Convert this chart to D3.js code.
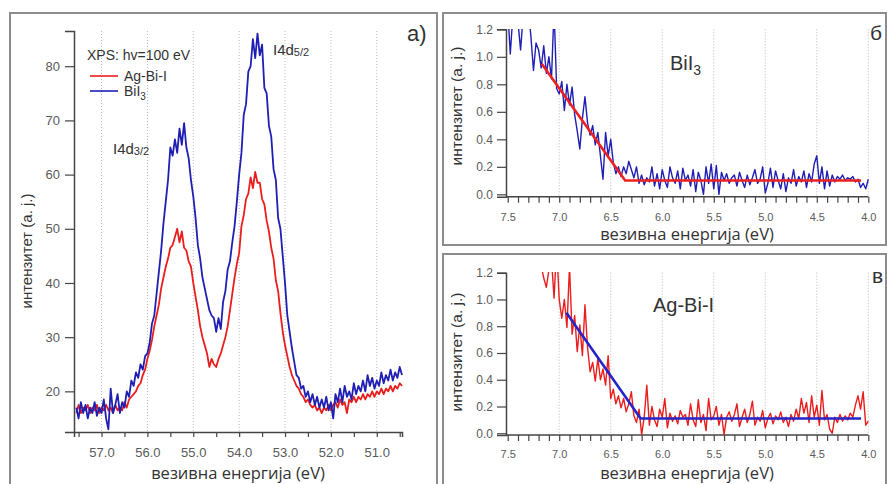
<!DOCTYPE html>
<html>
<head>
<meta charset="utf-8">
<script src="https://cdn.jsdelivr.net/npm/d3@7"></script>
<style>
  body { margin: 0; background: #fff; }
  text { font-family: "Liberation Sans", Arial, sans-serif; }
</style>
</head>
<body>
<div id="chart"></div>
<script>
// panel a) - I 4d core level spectra, read every 0.05 eV from 57.55 down to 50.45 eV
const coreStart = 57.55, coreStep = 0.05;
const coreAgBiI = [
  16, 17.5, 16, 17, 16.5, 17.5, 16, 17, 16.5, 17.5,
  16, 17, 16.5, 17.5, 16.5, 17, 16, 17.5, 16.5, 17,
  16.5, 18, 17, 18.5, 19, 19.5, 20, 21, 21.5, 23,
  24, 26, 27.5, 29.5, 32, 34, 36, 39, 41, 43,
  44.5, 46.5, 47, 48.5, 50, 47.5, 49.5, 46.5, 46, 44,
  43, 40, 37.5, 35, 32, 30, 28.5, 27, 24.5, 26,
  25, 24.5, 26, 27, 28.5, 30, 32, 35, 38, 41,
  43.5, 45.5, 50.5, 52.5, 55.5, 56.5, 59.5, 57.5, 60.5, 58.5,
  58.5, 55.5, 54.5, 51.5, 49.5, 46.5, 44.5, 40.5, 38.5, 34.5,
  31, 28.5, 26.5, 24.5, 23, 22, 21, 20.5, 19.5, 19,
  18, 18.5, 17.5, 17, 17.5, 16.5, 17, 16, 17, 16.5,
  17.5, 16.5, 17.5, 18, 17, 18.5, 17.5, 18, 16, 18.5,
  18, 19, 18, 19, 18.5, 19.5, 18.5, 19.5, 19, 20,
  19, 20, 19.5, 20.5, 19.5, 20.5, 20, 21, 20, 21,
  20.5, 21.5, 21
];
const coreBiI3 = [
  17, 15, 18, 16, 17.5, 15, 17, 16, 18, 15.5,
  17, 16, 18.5, 15, 13, 20.5, 16, 17.5, 19.5, 16,
  18, 17, 20, 19, 22, 21, 23.5, 22.5, 25, 24,
  26.5, 27, 29, 32.5, 34, 38, 42, 46, 51, 55,
  59, 65, 63.5, 66.5, 64, 68.5, 65.5, 69.5, 65, 63,
  59, 56, 52, 47, 44.5, 41, 39, 37, 35, 34,
  33.5, 31, 33.5, 31.5, 36.5, 38.5, 42.5, 44, 47.5, 50.5,
  55, 60, 64, 71, 73, 79, 80, 85, 81.5, 86,
  82, 84, 76, 75, 69, 67, 61, 59, 52, 50,
  45, 40, 34, 31, 28, 25.5, 23, 22.5, 20.5, 21,
  19, 20, 18, 19.5, 17.5, 19, 17, 18.5, 17, 19,
  16.5, 18, 15, 19.5, 18, 20.5, 18, 21, 19, 20,
  18.5, 21.5, 19.5, 21, 20, 22, 20, 23, 21, 22.5,
  20.5, 22, 21, 23.5, 21.5, 23, 22, 24, 22, 23.5,
  22.5, 24.5, 23
];
const coreXTicks = [57, 56, 55, 54, 53, 52, 51];
const coreYTicks = [20, 30, 40, 50, 60, 70, 80];

// panels б) and в) - valence band edge, read every 0.025 eV from 7.5 down to 4.0 eV
const vbStart = 7.5, vbStep = 0.025;
const vbBiI3 = [
  1.35, 1.02, 1.30, 1.40, 1.25, 1.05, 1.30, 1.22, 1.35, 1.15,
  0.90, 1.10, 1.05, 0.92, 1.08, 0.88, 1.00, 0.84, 1.35, 0.77,
  0.73, 0.82, 0.61, 0.80, 0.65, 0.78, 0.58, 0.46, 0.33, 0.55,
  0.71, 0.52, 0.43, 0.50, 0.36, 0.45, 0.28, 0.11, 0.45, 0.28,
  0.40, 0.23, 0.15, 0.20, 0.13, 0.20, 0.15, 0.24, 0.18, 0.12,
  0.20, 0.08, 0.14, 0.07, 0.12, 0.09, 0.20, 0.06, 0.15, 0.04,
  0.18, 0.10, 0.05, 0.20, 0.12, 0.08, 0.17, 0.04, 0.19, 0.10,
  0.14, 0.06, 0.18, 0.02, 0.16, 0.10, 0.00, 0.20, 0.08, 0.22,
  0.04, 0.21, 0.00, 0.16, 0.10, 0.15, 0.08, 0.12, 0.14, 0.06,
  0.16, 0.10, 0.05, 0.14, 0.07, 0.12, 0.18, 0.08, 0.11, 0.20,
  0.01, 0.08, 0.19, 0.05, 0.17, 0.10, 0.04, 0.15, 0.02, 0.12,
  0.08, 0.18, 0.06, 0.13, 0.09, 0.17, 0.05, 0.15, 0.09, 0.22,
  0.28, 0.08, 0.20, 0.04, 0.17, 0.06, 0.14, 0.09, 0.13, 0.11,
  0.14, 0.10, 0.12, 0.11, 0.13, 0.09, 0.11, 0.05, 0.08, 0.04,
  0.11
];
const vbAgBiI = [
  1.40, 1.45, 1.50, 1.42, 1.48, 1.38, 1.45, 1.40, 1.35, 1.42,
  1.30, 1.36, 1.28, 1.25, 1.16, 1.09, 1.22, 1.30, 1.01, 1.40,
  1.00, 0.86, 1.00, 0.79, 1.25, 0.74, 0.88, 0.61, 0.81, 0.58,
  0.96, 0.64, 0.46, 0.53, 0.39, 0.56, 0.40, 0.48, 0.36, 0.58,
  0.26, 0.33, 0.22, 0.28, 0.19, 0.26, 0.16, 0.22, 0.31, 0.13,
  0.08, 0.18, -0.01, 0.12, 0.36, 0.06, 0.20, 0.10, 0.05, 0.18,
  0.12, 0.26, 0.04, 0.15, 0.09, 0.13, 0.07, 0.17, 0.12, 0.14,
  0.06, 0.22, 0.10, 0.05, 0.25, 0.08, 0.14, 0.02, 0.26, 0.10,
  0.13, 0.20, 0.06, 0.14, -0.01, 0.12, 0.16, 0.09, 0.14, 0.22,
  0.05, 0.12, 0.18, 0.08, 0.14, 0.24, 0.06, 0.12, 0.09, 0.17,
  0.04, 0.11, 0.15, 0.07, 0.13, 0.10, 0.16, 0.08, 0.12, 0.05,
  0.14, 0.09, 0.18, 0.11, 0.26, 0.15, 0.23, 0.08, 0.28, 0.12,
  0.21, 0.06, 0.32, 0.10, 0.14, 0.03, 0.00, 0.12, 0.08, 0.14,
  0.09, 0.13, 0.10, 0.15, 0.12, 0.21, 0.28, 0.18, 0.31, 0.06,
  0.09
];
// linear extrapolation lines [energy, intensity]
const fitBiI3 = [[7.17, 0.95], [6.36, 0.10], [4.07, 0.10]];
const fitAgBiI = [[6.93, 0.90], [6.21, 0.11], [4.07, 0.11]];
const vbGridTicks = [7.0, 6.5, 6.0, 5.5, 5.0, 4.5, 4.0];
const vbYTicks = [0, 0.2, 0.4, 0.6, 0.8, 1.0, 1.2];

const red = "#ea1d1d", blue = "#1f1fb4";
const xTitle = "везивна енергија (eV)", yTitle = "интензитет (a. j.)";

const svg = d3.select("#chart")
  .append("svg")
  .attr("width", 887)
  .attr("height", 484);

svg.append("defs").append("clipPath").attr("id", "clipB")
  .append("rect").attr("x", 506).attr("y", 29).attr("width", 364).attr("height", 170);
svg.select("defs").append("clipPath").attr("id", "clipC")
  .append("rect").attr("x", 506).attr("y", 272).attr("width", 364).attr("height", 166);

// frames
const frame = (x, y, w, h) => svg.append("rect")
  .attr("x", x).attr("y", y).attr("width", w).attr("height", h)
  .attr("fill", "none").attr("stroke", "#8c8c8c").attr("stroke-width", 2);
frame(10, 13, 427, 490);
frame(443, 13, 443, 232);
frame(443, 254, 443, 250);

function styleAxis(g, size) {
  g.select(".domain").attr("stroke", "#444").attr("stroke-width", 1.5);
  g.selectAll(".tick line").attr("stroke", "#444").attr("stroke-width", 1.2);
  g.selectAll(".tick text").attr("fill", "#5a5a5a").style("font-size", size + "px")
    .style("font-family", "'Liberation Sans', Arial, sans-serif");
}

// ---------- panel a ----------
const xA = d3.scaleLinear().domain([57.6, 50.45]).range([74, 402]);
const yA = d3.scaleLinear().domain([12.5, 86.5]).range([432, 31]);

svg.append("g").selectAll("line").data(coreXTicks).enter().append("line")
  .attr("x1", d => xA(d)).attr("x2", d => xA(d))
  .attr("y1", 31).attr("y2", 432)
  .attr("stroke", "#b8b8b8").attr("stroke-dasharray", "1,2");

const axA = svg.append("g").attr("transform", "translate(0,432)")
  .call(d3.axisBottom(xA).tickValues(d3.range(57.5, 50.4, -0.5)).tickSize(5).tickPadding(11)
    .tickFormat(d => coreXTicks.includes(d) ? d.toFixed(1) : ""));
styleAxis(axA, 13);
const ayA = svg.append("g").attr("transform", "translate(74,0)")
  .call(d3.axisLeft(yA).tickValues(coreYTicks).tickSize(9).tickPadding(5));
styleAxis(ayA, 13);

const lineA = d3.line()
  .x((d, i) => xA(coreStart - coreStep * i))
  .y(d => yA(d));

svg.append("path").datum(coreAgBiI).attr("d", lineA)
  .attr("fill", "none").attr("stroke", red).attr("stroke-width", 1.8).attr("stroke-linejoin", "round");
svg.append("path").datum(coreBiI3).attr("d", lineA)
  .attr("fill", "none").attr("stroke", blue).attr("stroke-width", 1.8).attr("stroke-linejoin", "round");

svg.append("text").attr("x", 238).attr("y", 479).attr("text-anchor", "middle")
  .style("font-family", "'Open Sans', sans-serif").style("font-size", "16.5px").attr("fill", "#333")
  .text(xTitle);
svg.append("text").attr("transform", "translate(32,251) rotate(-90)").attr("text-anchor", "middle")
  .style("font-size", "15px").attr("fill", "#333").text(yTitle);

// legend
svg.append("text").attr("x", 87).attr("y", 60).style("font-size", "14px").attr("fill", "#333")
  .text("XPS: hv=100 eV");
const legend = [{ name: "Ag-Bi-I", color: red, y: 76 }, { name: "BiI", sub: "3", color: blue, y: 91 }];
legend.forEach(l => {
  svg.append("line").attr("x1", 90).attr("x2", 118).attr("y1", l.y).attr("y2", l.y)
    .attr("stroke", l.color).attr("stroke-width", 1.6);
  const t = svg.append("text").attr("x", 124).attr("y", l.y + 5).style("font-size", "14px").attr("fill", "#333")
    .text(l.name);
  if (l.sub) t.append("tspan").attr("dy", 4).style("font-size", "10px").text(l.sub);
});

const peakLabel = (x, y, sub) => {
  const t = svg.append("text").attr("x", x).attr("y", y).style("font-size", "15px").attr("fill", "#333").text("I4d");
  t.append("tspan").attr("dy", 1).style("font-size", "11px").text(sub);
};
peakLabel(113, 154, "3/2");
peakLabel(273, 55, "5/2");

svg.append("text").attr("x", 407).attr("y", 41).style("font-size", "22px").attr("fill", "#333").text("a)");

// ---------- panels б, в ----------
function valencePanel(opts) {
  const x = d3.scaleLinear().domain([7.5, 4.0]).range([507.7, 868.3]);
  const y = d3.scaleLinear().domain([opts.y0, 1.2]).range([opts.bottom, opts.top]);

  svg.append("g").selectAll("line").data(vbGridTicks).enter().append("line")
    .attr("x1", d => x(d)).attr("x2", d => x(d))
    .attr("y1", opts.top).attr("y2", opts.bottom)
    .attr("stroke", "#b8b8b8").attr("stroke-dasharray", "1,2");

  const ax = svg.append("g").attr("transform", `translate(0,${opts.bottom})`)
    .call(d3.axisBottom(x).tickValues(d3.range(7.5, 3.95, -0.1)).tickSize(6).tickPadding(opts.pad)
      .tickFormat(d => Math.abs(d * 2 - Math.round(d * 2)) < 1e-6 ? d.toFixed(1) : ""));
  styleAxis(ax, 11);
  ax.select(".domain").attr("d", `M506,0H868.3`);
  const ay = svg.append("g").attr("transform", "translate(506,0)")
    .call(d3.axisLeft(y).tickValues(vbYTicks).tickSize(9).tickPadding(4).tickFormat(d3.format(".1f")));
  styleAxis(ay, 12);

  const line = d3.line()
    .x((d, i) => x(vbStart - vbStep * i))
    .y(d => y(d));
  svg.append("path").datum(opts.values).attr("d", line).attr("clip-path", `url(#${opts.clip})`)
    .attr("fill", "none").attr("stroke", opts.color).attr("stroke-width", 1.4).attr("stroke-linejoin", "round");

  const fitLine = d3.line().x(d => x(d[0])).y(d => y(d[1]));
  svg.append("path").datum(opts.fit).attr("d", fitLine)
    .attr("fill", "none").attr("stroke", opts.fitColor).attr("stroke-width", 2.6);

  svg.append("text").attr("x", 687).attr("y", opts.titleY).attr("text-anchor", "middle")
    .style("font-family", "'Open Sans', sans-serif").style("font-size", "16.5px").attr("fill", "#333")
    .text(xTitle);
  svg.append("text").attr("transform", `translate(462,${opts.yTitleY}) rotate(-90)`).attr("text-anchor", "middle")
    .style("font-size", "15.5px").attr("fill", "#333").text(yTitle);

  const lab = svg.append("text").attr("x", opts.labelX).attr("y", opts.labelY)
    .style("font-size", "20px").attr("fill", "#333").text(opts.label);
  if (opts.sub) lab.append("tspan").attr("dy", 5).style("font-size", "14px").text(opts.sub);

  svg.append("text").attr("x", opts.letterX).attr("y", opts.letterY)
    .style("font-size", "21px").attr("fill", "#333").text(opts.letter);
}

valencePanel({
  values: vbBiI3, fit: fitBiI3, color: blue, fitColor: "#ec2020",
  y0: -0.018, top: 29.3, bottom: 196.8, pad: 10, clip: "clipB",
  titleY: 240, yTitleY: 106, label: "BiI", sub: "3", labelX: 670, labelY: 70,
  letter: "б", letterX: 870, letterY: 40
});
valencePanel({
  values: vbAgBiI, fit: fitAgBiI, color: red, fitColor: "#2424c8",
  y0: -0.013, top: 272.7, bottom: 435, pad: 9, clip: "clipC",
  titleY: 479, yTitleY: 352, label: "Ag-Bi-I", labelX: 653, labelY: 312,
  letter: "в", letterX: 872, letterY: 283
});
</script>
</body>
</html>
